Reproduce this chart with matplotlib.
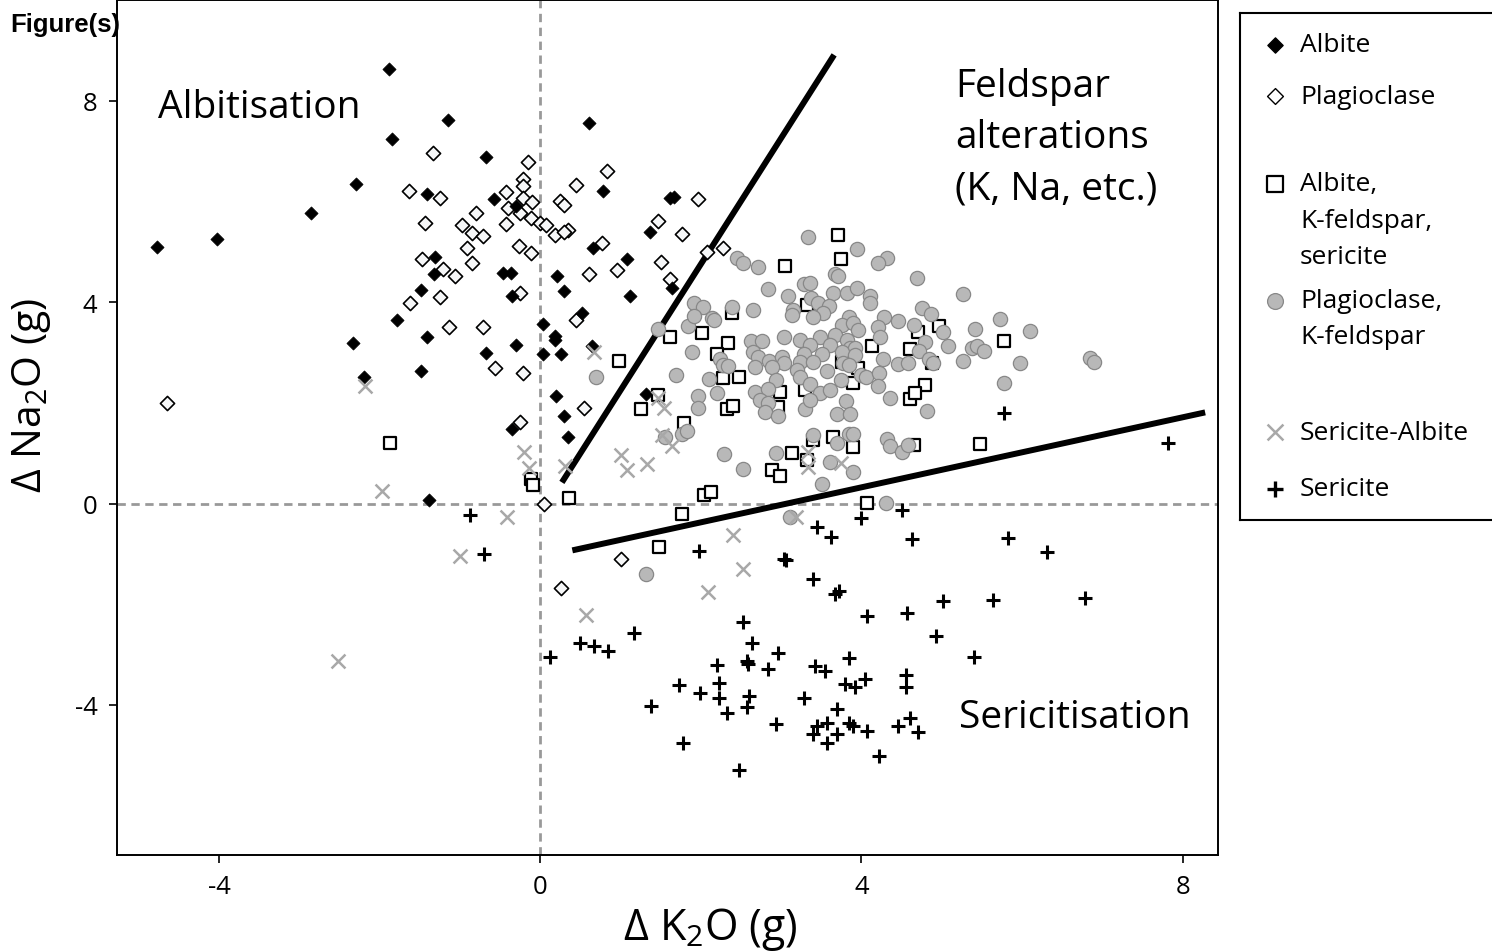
import matplotlib
matplotlib.use("Agg")
import matplotlib.pyplot as plt

plt.rcParams['font.family'] = ['Open Sans', 'DejaVu Sans']
plt.rcParams['mathtext.fontset'] = 'custom'
plt.rcParams['mathtext.rm'] = 'Open Sans'
plt.rcParams['axes.unicode_minus'] = False

# --- data (delta K2O, delta Na2O in g) ---
albite_x = [-4.77, -4.03, -2.85, -2.30, -1.88, -1.84, -1.15, -0.67, -0.57, -2.33, -2.19, -1.49,
            -1.78, -1.49, -1.41, -1.41, -1.31, -1.32, -1.38, -0.30, 0.61, 0.78, 1.62, 1.66,
            1.37, 0.66, 1.08, 0.21, 0.30, 1.12, -0.46, -0.36, -0.35, 0.52, 0.04, 1.64,
            0.19, 0.19, -0.30, -0.67, 0.04, 0.26, 0.65, 0.20, 0.29, 0.35, -0.35, 1.32]
albite_y = [5.10, 5.26, 5.77, 6.35, 8.63, 7.24, 7.62, 6.88, 6.05, 3.19, 2.52, 2.64,
            3.65, 4.25, 3.31, 6.15, 4.90, 4.56, 0.08, 5.91, 7.56, 6.21, 6.07, 6.09,
            5.40, 5.08, 4.86, 4.52, 4.23, 4.13, 4.58, 4.58, 4.13, 3.79, 3.57, 4.29,
            3.33, 3.25, 3.15, 2.98, 2.96, 2.96, 3.12, 2.14, 1.73, 1.33, 1.49, 2.18]

plag_x = [-1.33, -1.64, -1.25, -1.44, -1.47, -1.21, -1.06, -1.25, -1.62, -1.13, -4.65,
          -0.15, -0.22, -0.21, -0.42, -0.21, -0.10, -0.40, -0.25, -0.12, 0.00, 0.07, 0.19,
          0.34, 0.29, 0.25, 0.30, 0.44, 0.83, -0.80, -0.97, -0.85, -0.71, -0.42, -0.91,
          -0.85, -0.27, -0.12, -0.25, 0.77, 0.61, 0.95, 1.47, 1.77, 1.51, 1.61, 1.97,
          0.45, -0.71, -0.56, -0.21, 0.55, -0.25, 0.05, 1.01, 0.26, 2.28, 2.08]
plag_y = [6.96, 6.21, 6.07, 5.58, 4.86, 4.66, 4.52, 4.11, 3.99, 3.51, 2.00,
          6.79, 6.45, 6.31, 6.19, 6.07, 5.99, 5.87, 5.77, 5.67, 5.58, 5.54, 5.34,
          5.44, 5.40, 6.01, 5.93, 6.33, 6.61, 5.77, 5.54, 5.38, 5.32, 5.56, 5.08,
          4.78, 5.12, 4.98, 4.19, 5.18, 4.56, 4.64, 5.62, 5.36, 4.80, 4.46, 6.05,
          3.65, 3.51, 2.70, 2.60, 1.90, 1.61, 0.00, -1.11, -1.67, 5.08, 5.00]

akfs_x = [0.98, 1.62, 1.47, 1.25, 1.79, -0.12, -0.09, 0.36, 1.77, 1.48, -1.87, 3.05,
          2.39, 2.02, 2.34, 2.20, 2.28, 2.48, 2.33, 2.40, 2.99, 2.96, 3.71, 3.75,
          3.32, 4.13, 4.71, 4.97, 4.61, 4.88, 3.96, 3.76, 3.90, 4.79, 4.61, 4.67,
          5.77, 3.30, 2.89, 2.99, 2.04, 2.13, 3.13, 3.40, 3.65, 3.89, 3.32, 4.65,
          5.48, 4.07]
akfs_y = [2.84, 3.31, 2.16, 1.88, 1.59, 0.48, 0.36, 0.10, -0.20, -0.87, 1.21, 4.72,
          3.79, 3.39, 3.19, 2.96, 2.50, 2.52, 1.87, 1.94, 2.22, 1.92, 5.34, 4.86,
          3.95, 3.13, 3.41, 3.53, 3.06, 2.80, 2.70, 2.82, 2.40, 2.36, 2.08, 2.20,
          3.23, 2.26, 0.67, 0.54, 0.16, 0.22, 1.01, 1.27, 1.33, 1.13, 0.87, 1.17,
          1.19, 0.02]

pkfs_x = [0.70, 1.47, 1.84, 1.89, 1.69, 1.96, 1.96, 1.77, 1.83, 1.56, 1.32,
          2.45, 2.53, 2.71, 2.84, 3.08, 1.91, 2.03, 1.91, 2.14, 2.17, 2.39, 2.65,
          3.03, 2.63, 2.76, 2.65, 2.71, 2.85, 3.01, 3.03, 2.24, 2.28, 2.34, 2.68,
          2.89, 2.10, 2.93, 2.20, 2.68, 2.84, 2.74, 2.84, 2.80, 2.96,
          3.34, 3.95, 4.32, 4.21, 4.69, 5.27, 3.67, 3.71, 3.28, 3.36, 3.65, 3.82,
          3.94, 4.11, 4.11, 3.37, 3.46, 3.59, 3.52, 3.15, 3.14, 3.40, 3.84, 3.76,
          3.90, 3.96, 4.28, 4.45, 4.20, 4.23, 4.76, 4.86, 4.66, 5.02, 5.42, 5.73,
          3.24, 3.49, 3.67, 3.82, 3.36, 3.61, 3.86, 3.92, 4.79, 5.08, 5.38, 5.44,
          5.52, 3.28, 3.51, 3.76, 3.92, 3.24, 3.40, 3.77, 3.84, 4.27, 4.46, 4.58,
          4.72, 4.84, 4.89, 5.27, 3.20, 3.57, 3.99, 4.06, 4.22, 3.74, 3.24, 3.36,
          3.49, 3.61, 4.21, 4.36, 3.81, 3.30, 3.36, 3.69, 3.86, 4.82, 5.77,
          6.10, 5.98, 6.84, 6.89, 2.29, 2.53, 2.93, 3.11,
          3.40, 3.69, 3.84, 3.90, 4.32, 4.36, 4.50, 4.58, 3.61, 3.90, 3.51, 4.31]
pkfs_y = [2.52, 3.47, 3.53, 3.00, 2.56, 2.14, 1.90, 1.39, 1.45, 1.33, -1.39,
          4.88, 4.78, 4.70, 4.27, 4.13, 3.99, 3.91, 3.73, 3.69, 3.65, 3.91, 3.85,
          3.31, 3.23, 3.23, 3.00, 2.92, 2.84, 2.92, 2.80, 2.88, 2.76, 2.74, 2.72,
          2.72, 2.48, 2.46, 2.20, 2.22, 2.28, 2.06, 2.00, 1.81, 1.73,
          5.30, 5.06, 4.88, 4.78, 4.48, 4.17, 4.56, 4.52, 4.35, 4.38, 4.19, 4.19,
          4.29, 4.13, 3.99, 4.09, 3.99, 3.93, 3.79, 3.85, 3.75, 3.71, 3.71, 3.55,
          3.59, 3.45, 3.71, 3.63, 3.51, 3.31, 3.89, 3.77, 3.55, 3.41, 3.47, 3.67,
          3.25, 3.31, 3.35, 3.25, 3.15, 3.15, 3.09, 3.09, 3.21, 3.12, 3.09, 3.12,
          3.02, 2.96, 2.96, 3.00, 2.94, 2.82, 2.82, 2.80, 2.76, 2.88, 2.78, 2.80,
          3.02, 2.88, 2.80, 2.84, 2.66, 2.64, 2.56, 2.52, 2.60, 2.46, 2.52, 2.38,
          2.20, 2.26, 2.34, 2.10, 2.04, 1.87, 2.06, 1.77, 1.77, 1.83, 2.40,
          3.43, 2.80, 2.90, 2.82, 0.99, 0.69, 1.01, -0.26,
          1.37, 1.21, 1.39, 1.39, 1.29, 1.15, 1.03, 1.17, 0.83, 0.63, 0.38, 0.02]

seralb_x = [-0.20, -0.14, -1.97, -0.41, -1.00, -2.52, -2.18, 0.67, 0.31, 1.01, 1.08, 1.33,
            1.47, 1.54, 1.52, 1.64, 2.40, 2.52, 2.09, 3.34, 3.34, 3.74, 3.18, 0.57]
seralb_y = [1.03, 0.71, 0.24, -0.26, -1.05, -3.13, 2.34, 3.00, 0.75, 0.97, 0.67, 0.79,
            2.10, 1.90, 1.37, 1.15, -0.63, -1.31, -1.75, 1.03, 0.73, 0.81, -0.26, -2.22]

ser_x = [-0.87, -0.70, 0.12, 0.50, 0.67, 0.85, 1.17, 2.53, 2.64, 2.96, 2.20, 2.57,
         2.59, 2.84, 1.73, 1.99, 2.23, 2.23, 2.60, 2.57, 2.32, 1.38, 3.28, 2.93,
         1.78, 2.48, 3.42, 3.55, 3.67, 3.72, 3.40, 3.45, 3.57, 3.40, 3.57, 3.69,
         4.00, 4.50, 3.62, 4.63, 5.82, 6.31, 4.07, 4.57, 5.02, 5.64, 6.79, 4.93,
         5.40, 3.85, 3.80, 3.92, 4.04, 4.56, 4.56, 3.84, 3.89, 3.70, 4.07, 4.45,
         4.61, 4.71, 4.22, 3.45, 3.06, 5.77, 1.98, 3.04, 7.82]
ser_y = [-0.22, -1.01, -3.04, -2.76, -2.82, -2.92, -2.58, -2.36, -2.76, -2.96, -3.21, -3.12,
         -3.19, -3.29, -3.61, -3.77, -3.57, -3.87, -3.83, -4.05, -4.15, -4.03, -3.87, -4.37,
         -4.76, -5.30, -3.23, -3.33, -1.79, -1.74, -1.50, -4.42, -4.35, -4.58, -4.76, -4.09,
         -0.28, -0.12, -0.67, -0.71, -0.69, -0.97, -2.24, -2.18, -1.94, -1.92, -1.88, -2.64,
         -3.04, -3.06, -3.59, -3.65, -3.49, -3.41, -3.65, -4.35, -4.42, -4.58, -4.52, -4.42,
         -4.25, -4.54, -5.02, -0.46, -1.13, 1.79, -0.95, -1.11, 1.21]

# field boundaries
line1_x = [0.27, 3.66]
line1_y = [0.42, 8.91]
line2_x = [0.40, 8.28]
line2_y = [-0.93, 1.81]

W, H = 1492, 953
fig = plt.figure(figsize=(W / 100, H / 100), dpi=100)
ax = fig.add_axes([117 / W, 1 - 856 / H, 1101 / W, 855 / H])

ax.axhline(0, color='#999999', lw=2, ls=(0, (3, 2)), zorder=1)
ax.axvline(0, color='#999999', lw=2, ls=(0, (3, 2)), zorder=1)
ax.plot(line1_x, line1_y, color='black', lw=4.3, solid_capstyle='butt', zorder=2)
ax.plot(line2_x, line2_y, color='black', lw=4.3, solid_capstyle='butt', zorder=2)

ax.scatter(akfs_x, akfs_y, marker='s', s=85, facecolor='white', edgecolor='black', linewidth=1.6, zorder=3)
ax.scatter(pkfs_x, pkfs_y, marker='o', s=105, facecolor='#b8b8b8', edgecolor='#888888', linewidth=0.9, zorder=4)
ax.scatter(plag_x, plag_y, marker='D', s=52, facecolor='#f6f7f8', edgecolor='black', linewidth=1.2, zorder=5)
ax.scatter(albite_x, albite_y, marker='D', s=45, facecolor='black', edgecolor='black', linewidth=0.5, zorder=5)
ax.scatter(seralb_x, seralb_y, marker='x', s=100, color='#a8a8a8', linewidth=1.8, zorder=6)
ax.scatter(ser_x, ser_y, marker='+', s=110, color='black', linewidth=2.2, zorder=6)

ax.set_xlim(-5.27, 8.44)
ax.set_ylim(-6.98, 10.0)
ax.set_xticks([-4, 0, 4, 8])
ax.set_yticks([-4, 0, 4, 8])
ax.tick_params(direction='out', length=6, width=1.2, labelsize=18.5, pad=8)
for sp in ax.spines.values():
    sp.set_linewidth(1.4)

# axis titles placed where the original has them
fig.text(710 / W, 1 - 930 / H, r'Δ K$_\mathrm{2}$O (g)', fontsize=31, ha='center', va='center')
fig.text(32 / W, 1 - 395 / H, r'Δ Na$_\mathrm{2}$O (g)', fontsize=29.5, ha='center', va='center',
         rotation=90)

# field names
ax.text(-4.76, 7.88, 'Albitisation', fontsize=28, ha='left', va='center')
ax.text(5.17, 8.67, 'Feldspar\nalterations\n(K, Na, etc.)', fontsize=28, ha='left', va='top',
        linespacing=1.46)
ax.text(5.21, -4.23, 'Sericitisation', fontsize=28, ha='left', va='center')

fig.text(10 / W, 1 - 25 / H, 'Figure(s)', fontsize=18.5, fontweight='bold',
         family='Liberation Sans', ha='left', va='center')

# legend drawn by hand in its own box (pixel units inside the box)
lg = fig.add_axes([1240 / W, 1 - 521 / H, 270 / W, 507 / H])
lg.set_xlim(0, 270)
lg.set_ylim(507, 0)
lg.set_xticks([])
lg.set_yticks([])
for sp in lg.spines.values():
    sp.set_linewidth(1.5)
mx, tx = 35, 60
lg.scatter([mx], [32], marker='D', s=60, color='black')
lg.scatter([mx], [83], marker='D', s=65, facecolor='white', edgecolor='black', linewidth=1.0)
lg.scatter([mx], [171], marker='s', s=120, facecolor='white', edgecolor='black', linewidth=1.6)
lg.scatter([mx], [288], marker='o', s=130, facecolor='#b8b8b8', edgecolor='#888888', linewidth=0.9)
lg.scatter([mx], [419], marker='x', s=130, color='#a8a8a8', linewidth=1.8)
lg.scatter([mx], [476], marker='+', s=120, color='black', linewidth=2.4)
legend_rows = [(32, 'Albite'), (83, 'Plagioclase'), (171, 'Albite,'), (207, 'K-feldspar,'),
               (243, 'sericite'), (288, 'Plagioclase,'), (324, 'K-feldspar'),
               (419, 'Sericite-Albite'), (476, 'Sericite')]
for ry, label in legend_rows:
    lg.text(tx, ry, label, fontsize=19, ha='left', va='center')

fig.savefig('out.png', dpi=100)
